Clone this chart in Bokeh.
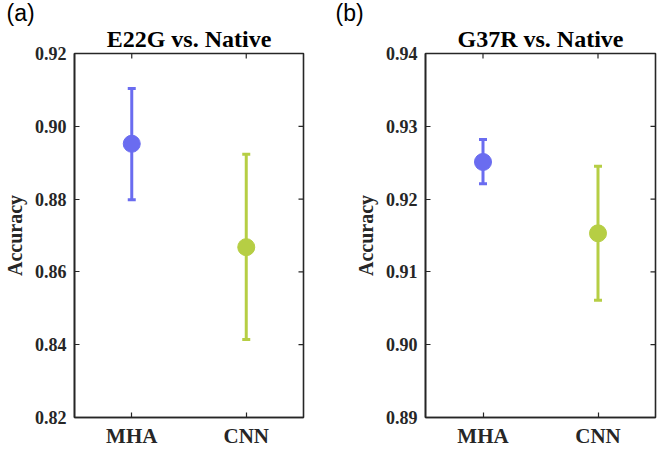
import math
from bokeh.plotting import figure
from bokeh.layouts import row
from bokeh.models import (Range1d, FixedTicker, NumeralTickFormatter, LinearAxis, Title)
from bokeh.embed import file_html
from bokeh.resources import INLINE

# Models compared in each panel
categories = ["MHA", "CNN"]
colors = ["#6a6cf0", "#b6ce44"]

# Panel (a): E22G vs. Native
e22g_mean = [0.8952, 0.8668]
e22g_upper = [0.9104, 0.8923]
e22g_lower = [0.8798, 0.8414]
e22g_ticks = [0.82, 0.84, 0.86, 0.88, 0.90, 0.92]

# Panel (b): G37R vs. Native
g37r_mean = [0.9251, 0.9153]
g37r_upper = [0.9282, 0.9245]
g37r_lower = [0.9221, 0.9061]
g37r_ticks = [0.89, 0.90, 0.91, 0.92, 0.93, 0.94]

AX = "#262626"
SERIF = "Liberation Serif"


def style_axis(ax, size):
    ax.axis_line_width = 1.6
    ax.axis_line_color = AX
    ax.major_tick_line_color = AX
    ax.major_tick_line_width = 1.2
    ax.major_tick_in = 5
    ax.major_tick_out = 0
    ax.minor_tick_line_color = None
    ax.major_label_text_font = SERIF
    ax.major_label_text_font_style = "bold"
    ax.major_label_text_color = AX
    ax.major_label_text_font_size = size
    ax.major_label_standoff = 8


def panel(letter, title, mean, upper, lower, ticks, left_border, right_border):
    ymin, ymax = ticks[0], ticks[-1]
    xmax = len(categories) + 0.5
    p = figure(width=330, height=450, output_backend="svg", toolbar_location=None,
               x_range=Range1d(0.5, xmax), y_range=Range1d(ymin, ymax),
               min_border_left=left_border, min_border_right=right_border,
               min_border_top=0, min_border_bottom=10)
    p.xaxis.visible = False
    p.yaxis.visible = False
    p.grid.visible = False
    p.outline_line_color = AX
    p.outline_line_width = 1.6
    p.background_fill_color = "white"
    p.border_fill_color = "white"

    xs = list(range(1, len(categories) + 1))
    xt = FixedTicker(ticks=xs)
    yt = FixedTicker(ticks=ticks)
    fmt = NumeralTickFormatter(format="0.00")

    bottom = LinearAxis(ticker=xt, major_label_overrides={i: c for i, c in zip(xs, categories)})
    style_axis(bottom, "21px")
    bottom.major_label_standoff = 6
    p.add_layout(bottom, "below")

    left = LinearAxis(ticker=yt, formatter=fmt, axis_label="Accuracy")
    style_axis(left, "18px")
    left.axis_label_text_font = SERIF
    left.axis_label_text_font_style = "bold"
    left.axis_label_text_font_size = "20px"
    left.axis_label_text_color = AX
    left.axis_label_standoff = 6
    p.add_layout(left, "left")

    # inward ticks on the top and right edges of the box
    p.ray(x=xs, y=[ymax] * len(xs), length=5, length_units="screen", angle=-math.pi / 2,
          line_color=AX, line_width=1.2)
    p.ray(x=[xmax] * len(ticks), y=ticks, length=5, length_units="screen", angle=math.pi,
          line_color=AX, line_width=1.2)

    # error bars with caps, then the mean markers
    p.segment(x0=xs, y0=lower, x1=xs, y1=upper, line_color=colors, line_width=3)
    p.scatter(x=xs + xs, y=upper + lower, marker="dash", size=8, angle=0,
              line_color=colors + colors, line_width=3)
    p.scatter(x=xs, y=mean, size=17, fill_color=colors, line_color=colors)

    p.add_layout(Title(text=title, align="center", text_font=SERIF, text_font_style="bold",
                       text_font_size="24px", text_color="black", standoff=3), "above")
    p.add_layout(Title(text=letter, align="left", text_font="Liberation Sans",
                       text_font_style="normal", text_font_size="23px", text_color="black",
                       standoff=-6, offset=-(left_border - 5)), "above")
    return p


pa = panel("(a)", "E22G vs. Native", e22g_mean, e22g_upper, e22g_lower, e22g_ticks, 73, 27)
pb = panel("(b)", "G37R vs. Native", g37r_mean, g37r_upper, g37r_lower, g37r_ticks, 95, 5)

layout = row(pa, pb)
open("out.html", "w").write(file_html(layout, INLINE))
